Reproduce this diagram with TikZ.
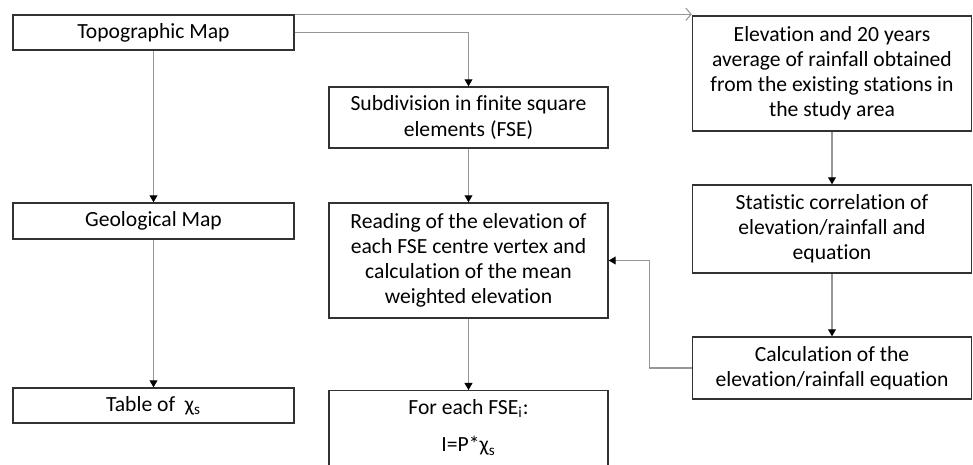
\documentclass[tikz,border=0pt]{standalone}
\usepackage{fontspec}
\setmainfont[Ligatures=NoCommon]{Carlito}
\usepackage{tikz}
\usetikzlibrary{arrows.meta,positioning,calc}
\definecolor{lnkgray}{RGB}{150,150,150}
\definecolor{boxedge}{RGB}{50,50,50}

\begin{document}
\begin{tikzpicture}[font=\fontsize{12.3}{14.3}\selectfont,
  blk/.style={draw=boxedge,line width=0.8pt,fill=white,align=center,inner sep=2pt},
  lnk/.style={draw=lnkgray,line width=0.6pt,-{Triangle[black,length=4pt,width=4.5pt]}},
  opn/.style={draw=lnkgray,line width=0.6pt,-{Straight Barb[lnkgray,length=3pt,width=7pt]}}]
  \clip (0,0) rectangle (19.46,9.3);
  % left column
  \node[blk,minimum width=5.62cm,minimum height=0.7cm] (topo) at (3.07,8.65) {Topographic Map};
  \node[blk,minimum width=5.62cm,minimum height=0.72cm] (geo) at (3.07,4.88) {Geological Map};
  \node[blk,minimum width=5.62cm,minimum height=0.7cm] (tabchi) at (3.07,1.19) {Table of \ χ\textsubscript{s}};
  % middle column
  \node[blk,minimum width=5.58cm,minimum height=1.22cm] (subdiv) at (9.37,6.95) {Subdivision in finite square\\elements (FSE)};
  \node[blk,minimum width=5.58cm,minimum height=2.3cm] (reading) at (9.37,4.09) {Reading of the elevation of\\each FSE centre vertex and\\calculation of the mean\\weighted elevation};
  \node[blk,minimum width=5.58cm,anchor=north,inner ysep=5pt] (fse) at (9.37,1.5) {For each FSE\textsubscript{i}:\\[7pt]I=P*χ\textsubscript{s}\\[1.2cm]\mbox{}};
  % right column
  \node[blk,minimum width=5.58cm,minimum height=2.3cm] (elev) at (16.64,7.83) {Elevation and 20 years\\average of rainfall obtained\\from the existing stations in\\the study area};
  \node[blk,minimum width=5.58cm,minimum height=1.76cm] (stat) at (16.64,4.72) {Statistic correlation of\\elevation/rainfall and\\equation};
  \node[blk,minimum width=5.58cm,minimum height=1.24cm] (calc) at (16.64,1.94) {Calculation of the\\elevation/rainfall equation};
  % connectors
  \draw[opn] (topo.north east) -- (topo.north east -| elev.west);
  \draw[lnk] (topo.east) -| (subdiv.north);
  \draw[lnk] (topo) -- (geo);
  \draw[lnk] (geo) -- (tabchi);
  \draw[lnk] (subdiv) -- (reading);
  \draw[lnk] (reading) -- (fse);
  \draw[lnk] (elev) -- (stat);
  \draw[lnk] (stat) -- (calc);
  \draw[lnk] (calc.west) -- ++(-0.84,0) |- (reading.east);
\end{tikzpicture}
\end{document}
